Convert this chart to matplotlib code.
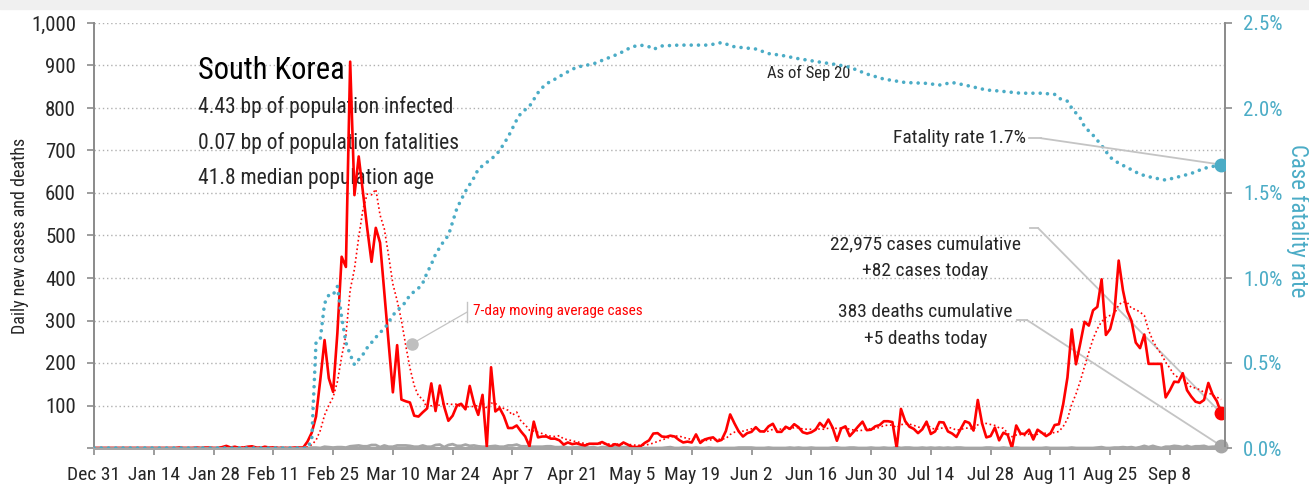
import numpy as np
import pandas as pd
import matplotlib
matplotlib.use('Agg')
import matplotlib.pyplot as plt
from matplotlib import font_manager
from matplotlib.patches import Rectangle

# ---------------- data ----------------
start = pd.Timestamp('2019-12-31')

# daily new cases, one list per month
cases_dec = [0]
cases_jan = [0, 0, 0, 0, 0, 0, 0, 0, 0, 0, 0, 0, 0, 0, 0, 0, 0, 0, 0, 1,
             0, 0, 0, 1, 0, 1, 1, 0, 0, 2, 5]
cases_feb = [1, 3, 0, 1, 3, 4, 1, 0, 3, 1, 1, 0, 0, 0, 0, 1, 1, 1, 15, 36,
             74, 160, 254, 164, 132, 270, 450, 426, 909]
cases_mar = [595, 686, 600, 516, 438, 518, 483, 367, 248, 131, 242, 114, 110, 107, 76, 74,
             84, 93, 152, 87, 147, 98, 64, 76, 100, 104, 91, 146, 105, 78, 125]
cases_apr = [3, 190, 86, 94, 75, 47, 47, 53, 39, 27, 4, 62, 25, 27, 27, 22,
             22, 18, 8, 13, 9, 11, 8, 6, 10, 10, 10, 14, 9, 4]
cases_may = [9, 6, 13, 8, 3, 2, 4, 12, 18, 34, 35, 27, 26, 29, 27, 19,
             13, 15, 13, 32, 12, 20, 23, 25, 16, 19, 40, 79, 58, 39, 27]
cases_jun = [35, 38, 49, 39, 39, 51, 57, 38, 38, 50, 45, 56, 49, 37, 34, 37,
             43, 59, 49, 67, 48, 17, 46, 51, 28, 39, 51, 62, 42, 43]
cases_jul = [51, 54, 63, 63, 61, 0, 92, 63, 50, 45, 35, 44, 62, 33, 39, 61,
             60, 39, 34, 26, 45, 63, 59, 41, 113, 58, 25, 28, 48, 18, 36]
cases_aug = [31, 0, 53, 34, 33, 43, 20, 43, 36, 28, 34, 54, 56, 103, 166, 279,
             197, 246, 297, 288, 324, 332, 397, 266, 280, 320, 441, 371, 323, 299, 248]
cases_sep = [235, 267, 198, 198, 198, 198, 119, 136, 156, 155, 176, 136, 121, 109, 106, 113,
             153, 126, 110, 82]

# daily deaths, one list per month
deaths_dec = [0]
deaths_jan = [0, 0, 0, 0, 0, 0, 0, 0, 0, 0, 0, 0, 0, 0, 0, 0, 0, 0, 0, 0,
              0, 0, 0, 0, 0, 0, 0, 0, 0, 0, 0]
deaths_feb = [0, 0, 0, 0, 0, 0, 0, 0, 0, 0, 0, 0, 0, 0, 0, 0, 0, 0, 0, 1,
              1, 0, 3, 2, 1, 2, 2, 1, 4]
deaths_mar = [5, 6, 4, 4, 7, 7, 2, 6, 3, 3, 6, 6, 6, 5, 3, 3,
              6, 3, 3, 7, 8, 2, 7, 9, 5, 5, 8, 5, 6, 4, 3]
deaths_apr = [3, 4, 5, 3, 3, 6, 6, 8, 4, 4, 3, 3, 3, 3, 4, 4,
              2, 2, 3, 1, 1, 2, 2, 2, 1, 2, 0, 2, 2, 2]
deaths_may = [2, 2, 2, 2, 0, 1, 0, 0, 0, 0, 0, 0, 1, 2, 0, 0,
              1, 1, 0, 1, 0, 0, 1, 0, 0, 0, 0, 0, 0, 1, 1]
deaths_jun = [1, 1, 0, 0, 0, 1, 0, 0, 0, 0, 1, 0, 1, 0, 0, 1,
              0, 0, 0, 0, 1, 1, 0, 0, 1, 1, 0, 0, 0, 1]
deaths_jul = [0, 0, 1, 0, 0, 2, 0, 1, 1, 0, 0, 1, 0, 1, 0, 1,
              0, 1, 0, 1, 1, 0, 0, 0, 0, 0, 1, 1, 0, 0, 1]
deaths_aug = [0, 0, 1, 0, 0, 0, 0, 0, 0, 1, 0, 0, 0, 0, 0, 1,
              0, 0, 0, 0, 0, 1, 2, 0, 0, 1, 1, 2, 1, 2, 0]
deaths_sep = [2, 5, 2, 5, 2, 0, 3, 3, 5, 4, 2, 5, 2, 4, 4, 5,
              2, 3, 3, 5]

# case fatality rate (%), read at points along the dotted curve (days after Dec 31)
rate_day = [0, 50, 51, 52, 53, 54, 55, 56, 57, 58, 59, 60, 61, 62, 63, 64, 65, 66, 67, 68,
            69, 70, 71, 72, 73, 74, 75, 76, 77, 78, 79, 80, 81, 82, 83, 84, 85, 86, 87, 88,
            89, 90, 91, 92, 93, 94, 95, 96, 97, 98, 99, 100, 101, 102, 103, 104, 105, 106,
            107, 108, 110, 113, 117, 120, 123, 126, 128, 130, 131, 133, 137, 144, 147, 150,
            155, 158, 161, 165, 170, 174, 177, 181, 185, 190, 195, 198, 201, 204, 209, 212,
            217, 222, 225, 226, 228, 229, 231, 232, 234, 236, 238, 240, 242, 245, 248, 251,
            254, 257, 260, 264]
rate_pct = [0.0, 0.0, 0.05, 0.62, 0.64, 0.85, 0.90, 0.90, 0.95, 0.77, 0.62, 0.55, 0.49, 0.52,
            0.55, 0.59, 0.62, 0.65, 0.68, 0.70, 0.74, 0.78, 0.81, 0.83, 0.86, 0.90, 0.92, 0.94,
            0.97, 1.03, 1.08, 1.14, 1.18, 1.22, 1.25, 1.33, 1.41, 1.46, 1.51, 1.55, 1.59, 1.64,
            1.66, 1.68, 1.70, 1.72, 1.75, 1.79, 1.83, 1.88, 1.93, 1.97, 1.99, 2.01, 2.05, 2.09,
            2.12, 2.14, 2.16, 2.17, 2.20, 2.24, 2.26, 2.29, 2.32, 2.36, 2.37, 2.36, 2.345,
            2.365, 2.37, 2.37, 2.385, 2.36, 2.347, 2.32, 2.31, 2.29, 2.27, 2.255, 2.24, 2.20,
            2.17, 2.15, 2.145, 2.135, 2.15, 2.135, 2.106, 2.10, 2.087, 2.087, 2.08, 2.057,
            2.04, 2.00, 1.94, 1.89, 1.84, 1.78, 1.71, 1.675, 1.65, 1.61, 1.59, 1.576, 1.595,
            1.615, 1.645, 1.667]

title = 'South Korea'
facts = ['4.43 bp of population infected',
         '0.07 bp of population fatalities',
         '41.8 median population age']

# ---------------- font ----------------
installed = {f.name for f in font_manager.fontManager.ttflist}
dv_cond = any(f.name == 'DejaVu Sans' and f.stretch == 'condensed'
              for f in font_manager.fontManager.ttflist)
stretch = 'normal'
font = 'DejaVu Sans'
for cand in ['Liberation Sans Narrow', 'Roboto Condensed', 'Open Sans Condensed']:
    if cand in installed:
        font = cand
        break
else:
    if dv_cond:
        stretch = 'condensed'
plt.rcParams['font.family'] = [font, 'DejaVu Sans']
plt.rcParams['font.stretch'] = stretch

RED = '#ff0000'
BLUE = '#4bacc6'
GREY = '#a6a6a6'
TXT = '#262626'

cases = cases_dec + cases_jan + cases_feb + cases_mar + cases_apr + cases_may + \
    cases_jun + cases_jul + cases_aug + cases_sep
deaths = deaths_dec + deaths_jan + deaths_feb + deaths_mar + deaths_apr + deaths_may + \
    deaths_jun + deaths_jul + deaths_aug + deaths_sep
dates = pd.date_range(start, periods=len(cases), freq='D')
ma7 = pd.Series(cases).rolling(7, min_periods=1).mean()
rate_dates = start + pd.to_timedelta(rate_day, unit='D')
rate = np.array(rate_pct) / 100

# ---------------- figure ----------------
fig = plt.figure(figsize=(13.09, 4.9), dpi=100)
fig.add_artist(Rectangle((0, 1 - 9 / 490), 1, 9 / 490, transform=fig.transFigure,
                         color='#f0f0f0', zorder=0))
ax = fig.add_axes([94 / 1309, 42 / 490, 1131 / 1309, 425 / 490])
ax2 = ax.twinx()

ax.plot(dates, deaths, color=GREY, lw=2, zorder=3)
ax.plot(dates, ma7, color=RED, lw=1.2, ls=(0, (1, 1.6)), zorder=4)
ax.plot(dates, cases, color=RED, lw=1.9, zorder=5)
ax.plot(dates[-1], cases[-1], 'o', color=RED, ms=9, zorder=6)
ax.plot(dates[-1], deaths[-1], 'o', color=GREY, ms=9, zorder=6, clip_on=False)

ax2.plot(rate_dates, rate, color=BLUE, lw=2.6, ls=(0, (0.01, 2.0)),
         dash_capstyle='round', zorder=3)
ax2.plot(rate_dates[-1], rate[-1], 'o', color=BLUE, ms=9, zorder=4)

# axes / ticks
ax.set_xlim(start, start + pd.Timedelta(days=264.9))
ax.set_ylim(0, 1000)
ax2.set_ylim(0, 0.025)
xt = pd.date_range(start, periods=19, freq='14D')
ax.set_xticks(xt)
ax.set_xticklabels([f'{d:%b} {d.day}' for d in xt])
yt = np.arange(0, 1001, 100)
ax.set_yticks(yt)
ax.set_yticklabels(['' if v == 0 else f'{v:,}' for v in yt])
rt = np.arange(0, 0.0251, 0.005)
ax2.set_yticks(rt)
ax2.set_yticklabels([f'{v * 100:.1f}%' for v in rt])

ax.yaxis.grid(True, ls=(0, (1, 2)), color='#b0b0b0', lw=1)
ax.set_axisbelow(True)
for a in (ax, ax2):
    a.spines['top'].set_visible(False)
    a.spines['left'].set_color('#8c8c8c')
    a.spines['right'].set_color('#8c8c8c')
    a.spines['left'].set_linewidth(1.3)
    a.spines['right'].set_linewidth(1.3)
    a.spines['bottom'].set_color(GREY)
    a.spines['bottom'].set_linewidth(2)
ax.tick_params(axis='both', direction='out', length=5, width=1.2, color='#8c8c8c',
               labelcolor=TXT)
ax.tick_params(axis='x', pad=8, labelsize=14)
ax.tick_params(axis='y', pad=8, labelsize=15)
ax2.tick_params(axis='y', direction='out', length=5, width=1.2, color='#8c8c8c',
                labelsize=15, labelcolor=BLUE, pad=8)

ax.text(-0.0654, 0.499, 'Daily new cases and deaths', transform=ax.transAxes,
        rotation=90, ha='center', va='center', fontsize=13, color=TXT)
ax2.text(1.0637, 0.534, 'Case fatality rate', transform=ax2.transAxes,
         rotation=270, ha='center', va='center', fontsize=16.5, color=BLUE)

# title block
ax.text(0.092, 0.889, title, transform=ax.transAxes, fontsize=22, ha='left',
        va='center', color='black')
for i, line in enumerate(facts):
    ax.text(0.092, 0.802 - i * 0.0845, line, transform=ax.transAxes, fontsize=15.5,
            ha='left', va='center', color=TXT)

ax.text(0.595, 0.882, 'As of Sep 20', transform=ax.transAxes, fontsize=12,
        ha='left', va='center', color=TXT)

# annotations with leader lines
LEAD = '#c4c4c4'
ax2.text(0.824, 0.729, 'Fatality rate 1.7%', transform=ax2.transAxes, fontsize=14,
         ha='right', va='center', color=TXT, zorder=6)
ax2.plot([0.827, 0.837], [0.729, 0.729], transform=ax2.transAxes, color=LEAD, lw=1.3)
ax2.annotate('', xy=(rate_dates[-1], rate[-1]), xytext=(0.837, 0.729),
             textcoords='axes fraction',
             arrowprops=dict(arrowstyle='-', color=LEAD, lw=1.3, shrinkA=0, shrinkB=0))

ax.text(0.735, 0.48, '22,975 cases cumulative', transform=ax.transAxes, fontsize=14,
        ha='center', va='center', color=TXT)
ax.text(0.735, 0.416, '+82 cases today', transform=ax.transAxes, fontsize=14,
        ha='center', va='center', color=TXT)
ax.plot([0.8276, 0.8347], [0.5176, 0.5176], transform=ax.transAxes, color=LEAD, lw=1.3)
ax.annotate('', xy=(dates[-1], cases[-1]), xytext=(0.8347, 0.5176),
            textcoords='axes fraction',
            arrowprops=dict(arrowstyle='-', color=LEAD, lw=1.3, shrinkA=0, shrinkB=0))

ax.text(0.735, 0.32, '383 deaths cumulative', transform=ax.transAxes, fontsize=14,
        ha='center', va='center', color=TXT)
ax.text(0.735, 0.256, '+5 deaths today', transform=ax.transAxes, fontsize=14,
        ha='center', va='center', color=TXT)
ax.plot([0.816, 0.825], [0.301, 0.301], transform=ax.transAxes, color=LEAD, lw=1.3)
ax.annotate('', xy=(dates[-1], deaths[-1]), xytext=(0.825, 0.301),
            textcoords='axes fraction',
            arrowprops=dict(arrowstyle='-', color=LEAD, lw=1.3, shrinkA=0, shrinkB=0))

# moving-average label
ax.text(0.335, 0.322, '7-day moving average cases', transform=ax.transAxes,
        fontsize=11, ha='left', va='center', color=RED)
ax.plot([0.33, 0.33], [0.296, 0.344], transform=ax.transAxes, color=LEAD, lw=1)
ax.plot([0.33, 0.281], [0.32, 0.245], transform=ax.transAxes, color=LEAD, lw=0.9)
ax.plot([0.281], [0.245], 'o', transform=ax.transAxes, color='#bfbfbf', ms=8, zorder=6)

fig.savefig('out.png', dpi=100)
